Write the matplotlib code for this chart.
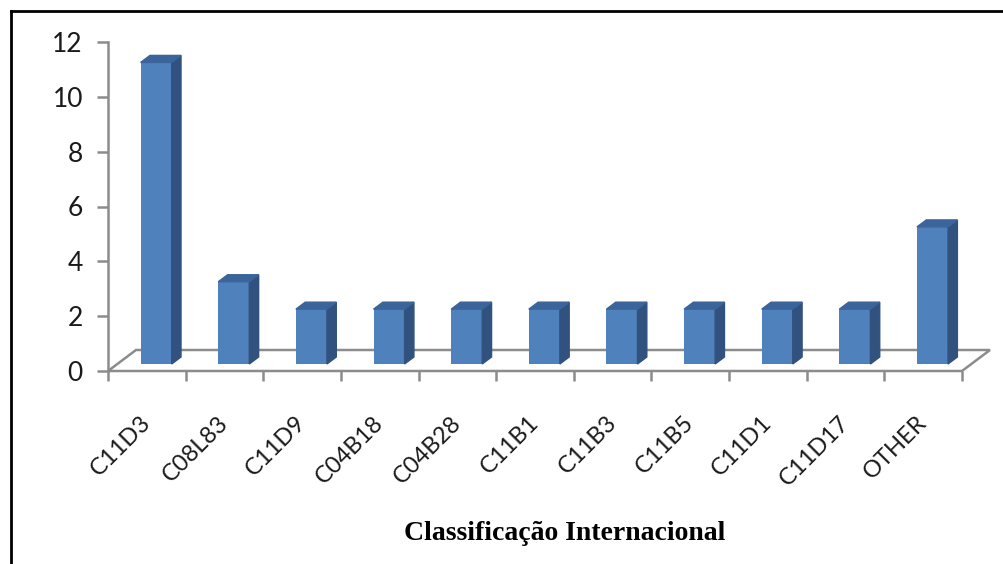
import matplotlib.pyplot as plt
from matplotlib.patches import Polygon
import numpy as np

categorias = ['C11D3', 'C08L83', 'C11D9', 'C04B18', 'C04B28', 'C11B1',
              'C11B3', 'C11B5', 'C11D1', 'C11D17', 'OTHER']
valores = [11, 3, 2, 2, 2, 2, 2, 2, 2, 2, 5]

cor_frente = '#4F81BD'
cor_lado = '#31527E'
cor_topo = '#3B649A'
cor_eixo = '#8C8C8C'

fig = plt.figure(figsize=(10.04, 5.64), dpi=100)
ax = fig.add_axes([108 / 1004, 1 - 371 / 564, 854 / 1004, 329 / 564])
ax.set_xlim(-0.5, len(categorias) - 0.5)
ax.set_ylim(0, 12)

# profundidade do "3D" em unidades de dados (x, y)
px_x = 854 / len(categorias)
px_y = 329 / 12
dx, dy = 28 / px_x, 21 / px_y
largura = 0.4

# chão
x0, x1 = -0.5, len(categorias) - 0.5
chao = [(x0, 0), (x1, 0), (x1 + dx, dy), (x0 + dx, dy)]
ax.add_patch(Polygon(chao, closed=True, fill=False, edgecolor=cor_eixo,
                     lw=1.8, clip_on=False, zorder=1))

# colunas: face frontal no primeiro terço da profundidade
fx, fy = dx / 3, dy / 3
xs = np.arange(len(categorias))
ax.bar(xs + fx, valores, width=largura, bottom=fy, color=cor_frente,
       zorder=3, clip_on=False)
for x, v in zip(xs, valores):
    xl, xr = x + fx - largura / 2, x + fx + largura / 2
    yb, yt = fy, fy + v
    lado = [(xr, yb), (xr + fx, yb + fy), (xr + fx, yt + fy), (xr, yt)]
    topo = [(xl, yt), (xr, yt), (xr + fx, yt + fy), (xl + fx, yt + fy)]
    ax.add_patch(Polygon(lado, closed=True, color=cor_lado, zorder=3, clip_on=False))
    ax.add_patch(Polygon(topo, closed=True, color=cor_topo, zorder=3, clip_on=False))

for s in ['top', 'right', 'bottom']:
    ax.spines[s].set_visible(False)
ax.spines['left'].set_color(cor_eixo)
ax.spines['left'].set_linewidth(1.8)

ax.set_yticks(range(0, 13, 2))
ax.tick_params(axis='y', length=8, width=1.8, color=cor_eixo,
               labelsize=19, pad=10, labelcolor='#1a1a1a')
ax.set_xticks(np.arange(-0.5, len(categorias), 1), minor=False)
ax.set_xticklabels([])
ax.tick_params(axis='x', length=7, width=1.8, color=cor_eixo, direction='out')
for lbl in ax.get_yticklabels():
    lbl.set_fontfamily('Lato')

# rótulos das categorias inclinados
for x, c in zip(xs, categorias):
    ax.text(x - 0.09, -1.5, c, rotation=45, ha='right', va='top',
            fontsize=17, family='Lato', rotation_mode='anchor', color='#1a1a1a')

fig.text(565 / 1004, 1 - 540 / 564, 'Classificação Internacional',
         ha='center', va='baseline', fontsize=20, fontweight='bold',
         family='Liberation Serif')

# moldura
fig.add_artist(plt.Line2D([11 / 1004, 11 / 1004], [0, 1 - 11 / 564],
                          color='black', lw=2, transform=fig.transFigure))
fig.add_artist(plt.Line2D([11 / 1004, 1], [1 - 11 / 564, 1 - 11 / 564],
                          color='black', lw=2, transform=fig.transFigure))

fig.savefig('out.png', dpi=100)
